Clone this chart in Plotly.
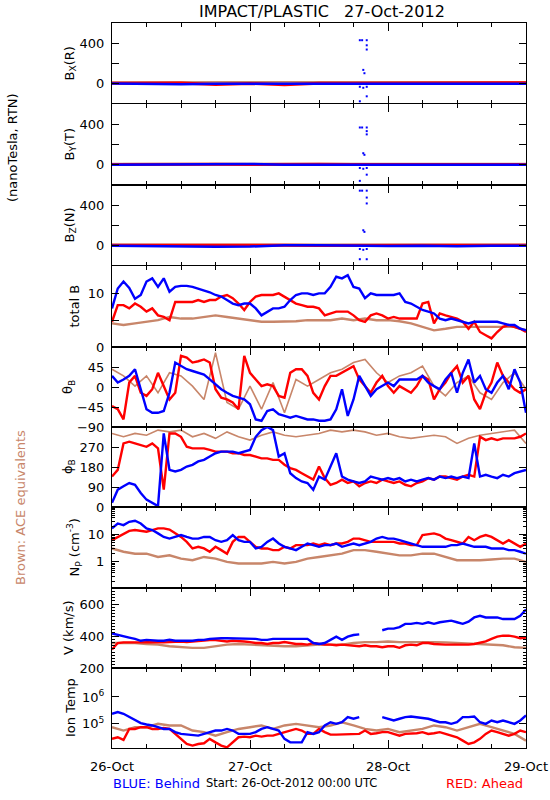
import plotly.graph_objects as go
from plotly.subplots import make_subplots

BLUE = "#0000FF"
RED = "#FF0000"
BROWN = "#C8866A"
FONT = "DejaVu Sans"

# ---------------- time axes (hours since 26-Oct-2012 00:00 UTC) ----------------
hours = list(range(73))
hours2 = list(range(0, 73, 2))
hours6 = list(range(0, 73, 6))
day_ticks = [0, 24, 48, 72]
day_labels = ["26-Oct", "27-Oct", "28-Oct", "29-Oct"]

# ---------------- B components (nT) ----------------
bx_blue = [2, 0, -6, 0, 1, 0, 0, 2, 0, 0, 1, 0, 0]
bx_red = [4, 6, 8, -8, 3, -10, 5, 6, 8, 7, 9, 10, 10]
bx_brown = [10, 12, 10, 12, 12, 12, 12, 12, 11, 12, 12, 12, 12]
by_blue = [0, 2, 4, 6, 8, 0, 2, 0, 0, 1, 0, 2, 0]
by_red = [3, 5, 8, 4, 2, 6, 4, 3, 2, 5, 6, 4, 3]
by_brown = [6, 6, 6, 6, 6, 6, 6, 6, 6, 6, 6, 6, 6]
bz_blue = [0, -4, -6, -10, -8, 6, 4, 0, -2, 0, -6, 0, 0]
bz_red = [5, 6, 4, 6, 5, 4, 2, 5, 6, 4, 6, 8, 6]
bz_brown = [8, 8, 8, 8, 8, 8, 8, 8, 8, 8, 8, 8, 8]

spike_t = [43.1, 43.5, 44.3, 44.3, 44.3, 43.7, 43.9, 43.1, 43.7, 44.3, 44.3, 43.1]
bx_spikes = [430, 430, 430, 380, 338, 137, 104, -30, -40, -30, -124, -173]
by_spikes = [368, 368, 368, 332, 300, 114, 98, -32, -40, -32, -98, -159]
bz_spikes = [544, 544, 544, 476, 418, 153, 137, -32, -40, -32, -133, -133]

# ---------------- total B (nT) ----------------
btot_blue = [7.2, 10.9, 12.2, 11.0, 9.0, 9.7, 12.2, 12.8, 11.2, 12.8, 10.3, 11.2, 11.4,
             11.4, 11.2, 10.9, 10.6, 10.2, 9.7, 9.4, 8.75, 8.1, 7.8, 8.1, 8.1, 7.2, 5.9,
             6.6, 7.2, 7.2, 7.5, 8.75, 9.7, 10.0, 10.0, 9.7, 10.0, 10.0, 11.2, 13.1, 12.8,
             13.4, 11.2, 10.9, 9.1, 10.0, 9.7, 9.7, 9.7, 9.7, 10.0, 8.4, 8.1, 7.5, 6.9, 6.6,
             6.25, 5.3, 5.0, 5.3, 5.0, 4.7, 4.4, 4.7, 4.7, 4.7, 4.7, 4.7, 4.4, 4.1, 4.1, 3.4, 3.1]
btot_red = [4.7, 7.8, 7.8, 7.2, 8.1, 7.5, 6.6, 7.2, 5.9, 5.6, 5.0, 8.4, 8.4, 8.4, 8.4, 8.75,
            8.4, 8.75, 8.75, 9.4, 9.7, 9.1, 8.1, 6.9, 8.4, 9.4, 9.7, 9.7, 9.7, 10.0, 9.4, 8.75,
            8.1, 7.8, 7.5, 7.5, 7.2, 5.9, 6.25, 6.6, 6.6, 6.6, 5.9, 5.0, 4.7, 5.9, 6.25, 5.9,
            5.3, 5.6, 5.3, 5.3, 5.3, 5.3, 8.1, 8.4, 4.4, 6.25, 5.9, 5.6, 5.3, 4.7, 3.4, 4.7,
            2.8, 2.2, 1.6, 2.8, 3.75, 4.1, 3.75, 3.4, 2.8]
btot_brown = [4.4, 4.1, 4.4, 4.7, 5.0, 5.6, 5.3, 5.3, 5.6, 5.9, 5.6, 5.3, 5.0, 4.7, 4.7, 4.7,
              4.8, 5.0, 5.0, 5.0, 5.3, 5.0, 5.3, 5.0, 5.0, 4.8, 4.4, 3.75, 3.1, 3.4, 3.75,
              3.75, 3.75, 3.75, 3.75, 3.75, 3.1]

# ---------------- theta_B (deg) ----------------
theta_blue = [25, 10, 17, 25, 40, -5, -50, -58, -58, -54, -13, 55, 47, 40, 36, 32, 28, 17, 6,
              -5, -13, -20, -24, -28, -39, -73, -76, -54, -50, -61, -65, -69, -65, -69, -73,
              -73, -76, -76, -73, -50, -5, -65, -28, 25, 2, -20, -5, 2, 10, 2, 17, 17, 17, 17,
              25, 10, 2, -5, 17, 32, -13, 32, 62, 10, 25, -5, -13, 10, 25, -5, 40, 10, -58]
theta_red = [-43, -50, -73, 10, 25, -13, -20, -5, 32, 2, -28, -13, 70, 66, 55, 58, 62, 55, -5,
             -24, -28, -35, -50, 70, 32, 17, 2, 6, 2, -20, -24, 32, 40, 40, 25, -13, -28, 2,
             25, 25, 32, 40, 47, 17, 2, -13, 10, 25, 2, -13, 2, -5, -13, 2, 25, 17, -28, -5,
             10, 32, 47, 10, 25, -28, -50, -13, 10, 55, 25, 10, -5, -13, -5]
theta_brown = [40, 25, 2, 25, -13, 32, 25, 2, -28, 77, -35, -50, 2, -50, 10, -58, 17, 2, 17,
               32, 40, 55, 62, 32, 10, 25, 32, 47, 2, -20, 10, 25, -13, -28, 10, 32, -5]

# ---------------- phi_B (deg) ----------------
phi_blue = [19, 78, 93, 108, 100, 63, 33, 19, 4, 331, 167, 160, 167, 182, 190, 205, 212, 227,
            242, 249, 249, 249, 242, 249, 257, 316, 346, 360, 346, 227, 242, 152, 130, 115, 108,
            78, 137, 123, 182, 242, 137, 123, 115, 108, 115, 137, 130, 123, 130, 123, 130, 115,
            123, 115, 123, 130, 123, 137, 130, 137, 130, 137, 130, 286, 137, 145, 137, 130,
            145, 137, 152, 160, 167]
phi_red = [137, 167, 286, 294, 286, 279, 271, 286, 264, 78, 331, 331, 316, 271, 264, 264, 264,
           257, 249, 249, 249, 242, 242, 234, 234, 227, 219, 219, 212, 212, 190, 175, 167, 152,
           137, 123, 182, 130, 100, 108, 123, 108, 115, 93, 108, 115, 108, 123, 115, 108, 115,
           100, 93, 108, 115, 130, 123, 137, 137, 130, 123, 137, 145, 137, 316, 301, 309, 301,
           309, 309, 309, 316, 331]
phi_brown = [331, 316, 331, 323, 346, 338, 346, 316, 331, 309, 338, 316, 301, 323, 338, 323,
             316, 323, 331, 346, 338, 346, 338, 323, 331, 316, 309, 316, 323, 316, 286, 309,
             323, 331, 338, 346, 286]

# ---------------- proton density, log10(cm^-3) ----------------
lognp_blue = [1.22, 1.40, 1.34, 1.46, 1.50, 1.40, 1.22, 1.16, 1.04, 0.91, 0.85, 0.91, 0.98,
              0.91, 0.85, 0.85, 0.91, 0.91, 0.79, 0.73, 0.79, 0.98, 0.79, 0.73, 0.73, 0.49,
              0.55, 0.73, 0.85, 0.67, 0.55, 0.49, 0.43, 0.55, 0.67, 0.61, 0.55, 0.61, 0.61,
              0.67, 0.55, 0.61, 0.67, 0.61, 0.67, 0.73, 0.85, 0.91, 0.85, 0.85, 0.79, 0.73,
              0.67, 0.61, 0.55, 0.55, 0.55, 0.55, 0.55, 0.61, 0.61, 0.67, 0.61, 0.55, 0.55,
              0.55, 0.49, 0.49, 0.49, 0.43, 0.43, 0.37, 0.30]
lognp_red = [0.79, 0.91, 1.04, 1.13, 1.16, 1.13, 1.10, 1.16, 1.22, 1.22, 1.18, 1.04, 0.91, 0.73,
             0.49, 0.55, 0.49, 0.37, 0.55, 0.43, 0.30, 0.73, 0.91, 0.91, 0.73, 0.55, 0.49, 0.49,
             0.43, 0.43, 0.55, 0.49, 0.61, 0.61, 0.61, 0.67, 0.61, 0.67, 0.61, 0.67, 0.67, 0.73,
             0.85, 0.85, 0.79, 0.73, 0.73, 0.73, 0.73, 0.73, 0.67, 0.67, 0.61, 0.61, 0.98, 1.01,
             1.04, 0.98, 0.85, 0.79, 0.73, 0.67, 0.91, 0.79, 0.91, 0.98, 0.91, 0.79, 0.67, 0.79,
             0.67, 0.55, 0.67]
lognp_brown = [0.49, 0.37, 0.30, 0.30, 0.18, 0.24, 0.12, 0.06, 0.18, 0.12, 0.0, -0.06, -0.06,
               -0.06, 0.0, -0.06, 0.0, 0.12, 0.18, 0.24, 0.30, 0.43, 0.43, 0.37, 0.30, 0.24,
               0.24, 0.30, 0.30, 0.18, 0.06, 0.06, 0.06, 0.09, 0.12, 0.12, 0.0]

# ---------------- bulk speed (km/s) ----------------
v_blue = [416, 406, 396, 390, 382, 370, 376, 372, 370, 370, 376, 370, 370, 374, 370, 376, 376,
          382, 386, 386, 386, 386, 386, 382, 386, 382, 376, 376, 382, 382, 386, 386, 386, 382,
          382, 356, 350, 356, 376, 396, 376, 396, 406, 410, None, None, None, 436, 446, 446,
          456, 476, 476, 482, 476, 486, 476, 486, 490, 496, 486, 476, 490, 516, 526, 516, 516,
          516, 506, 506, 506, 526, 566]
v_red = [316, 356, 360, 360, 356, 360, 362, 360, 362, 360, 362, 366, 366, 362, 366, 370, 370,
         374, 374, 370, 366, 370, 370, 366, 362, 356, 356, 350, 356, 356, 362, 356, 350, 350,
         346, 356, 350, 346, 346, 342, 346, 342, 342, 336, 342, 336, 336, 330, 336, 336, 326,
         342, 346, 342, 356, 356, 350, 346, 346, 346, 346, 342, 346, 350, 356, 366, 382, 396,
         402, 402, 396, 386, 390]
v_brown = [356, 356, 356, 350, 346, 336, 330, 326, 326, 336, 346, 350, 346, 346, 342, 336, 336,
           342, 346, 346, 346, 356, 362, 362, 366, 362, 362, 366, 362, 360, 356, 350, 350, 346,
           342, 330, 326]

# ---------------- ion temperature, log10(K) ----------------
logt_blue = [5.375, 5.44, 5.375, 5.25, 5.125, 5.025, 4.975, 4.94, 4.875, 4.81, 4.81, 4.69,
             4.625, 4.6, 4.6, 4.56, 4.625, 4.69, 4.75, 4.75, 4.81, 4.75, 4.625, 4.625, 4.625,
             4.69, 4.81, 4.875, 4.81, 4.75, 4.44, 4.31, 4.31, 4.31, 4.69, 4.625, 4.69, 4.94,
             5.06, 5.0, 5.06, 5.25, 5.19, 5.25, None, None, None, 5.25, 5.19, 5.125, 5.19, 5.25,
             5.275, 5.25, 5.225, 5.19, 5.125, 5.06, 5.06, 5.0, 5.06, 5.25, 5.25, 5.275, 5.06,
             5.0, 5.125, 5.06, 5.125, 5.06, 5.0, 5.125, 5.31]
logt_red = [4.44, 4.5, 4.4, 4.81, 4.81, 4.875, 4.875, 4.81, 4.81, 4.85, 4.81, 4.625, 4.44, 4.25,
            4.19, 4.25, 4.275, 4.44, 4.31, 4.19, 4.125, 4.31, 4.5, 4.525, 4.5, 4.56, 4.525,
            4.56, 4.56, 4.625, 4.69, 4.75, 4.81, 4.75, 4.625, 4.625, 4.81, 4.69, 4.6, 4.6, 4.6,
            4.625, 4.6, 4.625, 4.75, 4.625, 4.65, 4.69, 4.69, 4.625, 4.56, 4.625, 4.625, 4.65,
            4.69, 4.625, 4.65, 4.69, 4.625, 4.56, 4.5, 4.375, 4.25, 4.31, 4.44, 4.625, 4.75,
            4.69, 4.625, 4.56, 4.625, 4.75, 4.69]
logt_brown = [4.875, 4.75, 4.875, 4.875, 5.0, 4.94, 4.94, 4.75, 4.69, 4.56, 4.69, 4.81, 4.875,
              4.94, 4.81, 4.94, 5.0, 4.94, 4.875, 4.94, 5.06, 4.94, 4.81, 4.75, 4.81, 4.69,
              4.75, 4.81, 4.94, 4.875, 4.75, 4.875, 5.0, 4.875, 4.75, 4.625, 4.375]

# ---------------- panel labels ----------------
panel_titles = ["B<sub>X</sub>(R)", "B<sub>Y</sub>(T)", "B<sub>Z</sub>(N)", "total B",
                "θ<sub>B</sub>", "ϕ<sub>B</sub>", "N<sub>P</sub> (cm<sup>-3</sup>)",
                "V (km/s)", "Ion Temp"]

NP = 9
# panel pixel heights (top to bottom)
row_px = [81, 81, 81, 81, 80, 80, 81, 80, 80]
fig = make_subplots(rows=NP, cols=1, shared_xaxes=True, vertical_spacing=0,
                    row_heights=row_px)


def lin(row, x, y, color, width=2.4):
    fig.add_trace(go.Scatter(x=x, y=y, mode="lines", line=dict(color=color, width=width),
                             connectgaps=False, showlegend=False, hoverinfo="skip"),
                  row=row, col=1)


def pow10(vals):
    return [None if v is None else 10 ** v for v in vals]


comp = [(bx_brown, bx_red, bx_blue, bx_spikes), (by_brown, by_red, by_blue, by_spikes),
        (bz_brown, bz_red, bz_blue, bz_spikes)]
for i, (br, rd, bl, sp) in enumerate(comp, start=1):
    lin(i, hours6, br, BROWN, 3)
    lin(i, hours6, rd, RED, 3)
    lin(i, hours6, bl, BLUE, 2.5)
    fig.add_trace(go.Scatter(x=spike_t, y=sp, mode="markers",
                             marker=dict(color=BLUE, size=2, symbol="square"),
                             showlegend=False, hoverinfo="skip"), row=i, col=1)

lin(4, hours2, btot_brown, BROWN)
lin(4, hours, btot_red, RED)
lin(4, hours, btot_blue, BLUE)
lin(5, hours2, theta_brown, BROWN, 1.6)
lin(5, hours, theta_red, RED)
lin(5, hours, theta_blue, BLUE)
lin(6, hours2, phi_brown, BROWN, 1.6)
lin(6, hours, phi_red, RED)
lin(6, hours, phi_blue, BLUE)
lin(7, hours2, pow10(lognp_brown), BROWN)
lin(7, hours, pow10(lognp_red), RED)
lin(7, hours, pow10(lognp_blue), BLUE)
lin(8, hours2, v_brown, BROWN)
lin(8, hours, v_red, RED)
lin(8, hours, v_blue, BLUE)
lin(9, hours2, pow10(logt_brown), BROWN)
lin(9, hours, pow10(logt_red), RED)
lin(9, hours, pow10(logt_blue), BLUE)

yspecs = [
    dict(range=[-200, 600], tickvals=[0, 200, 400], ticktext=["0", "", "400"]),
    dict(range=[-200, 600], tickvals=[0, 200, 400], ticktext=["0", "", "400"]),
    dict(range=[-200, 600], tickvals=[0, 200, 400], ticktext=["0", "", "400"]),
    dict(range=[0, 15.1], tickvals=[0, 5, 10], ticktext=["0", "", "10"]),
    dict(range=[-90, 90], tickvals=[-90, -45, 0, 45], ticktext=["−90", "−45", "0", "45"]),
    dict(range=[0, 360], tickvals=[0, 90, 180, 270], ticktext=["0", "90", "180", "270"]),
    dict(type="log", range=[-0.95, 2.0], tickvals=[1, 10], ticktext=["1", "10"],
         minor=dict(ticks="inside", ticklen=3, tickcolor="black",
                    tickvals=[0.2, 0.3, 0.4, 0.5, 0.6, 0.7, 0.8, 0.9, 2, 3, 4, 5, 6, 7, 8, 9,
                              20, 30, 40, 50, 60, 70, 80, 90])),
    dict(range=[200, 700], tickvals=[200, 400, 600], ticktext=["200", "400", "600"],
         minor=dict(ticks="inside", ticklen=3, tickcolor="black", dtick=20)),
    dict(type="log", range=[4.1, 7.08], tickvals=[1e5, 1e6],
         ticktext=["10<sup>5</sup>", "10<sup>6</sup>"]),
]

for i in range(NP):
    sfx = "" if i == 0 else str(i + 1)
    spec = dict(yspecs[i])
    fig.layout["yaxis" + sfx].update(
        ticks="inside", ticklen=7, tickwidth=1, tickcolor="black", mirror="allticks",
        showline=True, linecolor="black", linewidth=1, showgrid=False, zeroline=False,
        tickmode="array", tickfont=dict(family=FONT, size=13, color="black"),
        ticklabelstandoff=4, automargin=False, **spec)
    fig.layout["xaxis" + sfx].update(
        range=[0, 72], ticks="inside", ticklen=8, tickwidth=1, tickcolor="black",
        mirror="allticks", showline=True, linecolor="black", linewidth=1,
        showgrid=False, zeroline=False, tickmode="array", tickvals=day_ticks,
        ticktext=day_labels, showticklabels=(i == NP - 1), automargin=False,
        tickfont=dict(family=FONT, size=13, color="black"), ticklabelstandoff=6,
        minor=dict(ticks="inside", ticklen=4, tickcolor="black", dtick=6, tick0=0))

W, H = 550, 800
L, T, R, B = 112, 23, 550 - 526, 800 - 748
pw, ph = W - L - R, H - T - B


def px(xs):
    return (xs - L) / pw


def py(ys):
    return (H - B - ys) / ph


ann = []
title_x = [70, 70, 70, 74, 68, 68, 74, 68, 70]
top = 23
for i, t in enumerate(panel_titles):
    cy = top + row_px[i] / 2
    top += row_px[i]
    ann.append(dict(text=t, x=px(title_x[i]), y=py(cy), xref="paper", yref="paper",
                    textangle=-90, showarrow=False, xanchor="center", yanchor="middle",
                    font=dict(family=FONT, size=13, color="black")))

ann += [
    dict(text="IMPACT/PLASTIC   27-Oct-2012", x=px(322), y=py(12), xref="paper", yref="paper",
         showarrow=False, xanchor="center", yanchor="middle",
         font=dict(family=FONT, size=16, color="black")),
    dict(text="(nanoTesla, RTN)", x=px(12), y=py(148), xref="paper", yref="paper",
         textangle=-90, showarrow=False, xanchor="center", yanchor="middle",
         font=dict(family=FONT, size=13, color="black")),
    dict(text="Brown: ACE equivalents", x=px(20), y=py(508), xref="paper", yref="paper",
         textangle=-90, showarrow=False, xanchor="center", yanchor="middle",
         font=dict(family=FONT, size=13, color=BROWN)),
    dict(text="BLUE: Behind", x=px(111), y=py(783), xref="paper", yref="paper",
         showarrow=False, xanchor="left", yanchor="middle",
         font=dict(family=FONT, size=13, color=BLUE)),
    dict(text="Start: 26-Oct-2012 00:00 UTC", x=px(291), y=py(783), xref="paper",
         yref="paper", showarrow=False, xanchor="center", yanchor="middle",
         font=dict(family=FONT, size=11.5, color="black")),
    dict(text="RED: Ahead", x=px(525), y=py(783), xref="paper", yref="paper",
         showarrow=False, xanchor="right", yanchor="middle",
         font=dict(family=FONT, size=13, color=RED)),
]

fig.update_layout(width=W, height=H, margin=dict(l=L, r=R, t=T, b=B, pad=0, autoexpand=False),
                  paper_bgcolor="white", plot_bgcolor="white", showlegend=False,
                  annotations=ann, font=dict(family=FONT, size=13, color="black"))

# remove the browser's default page margin so the figure sits at the window's corner
fig.write_html("out.html", config={"displayModeBar": False},
               post_script="document.body.style.margin='0';document.body.style.padding='0';")
